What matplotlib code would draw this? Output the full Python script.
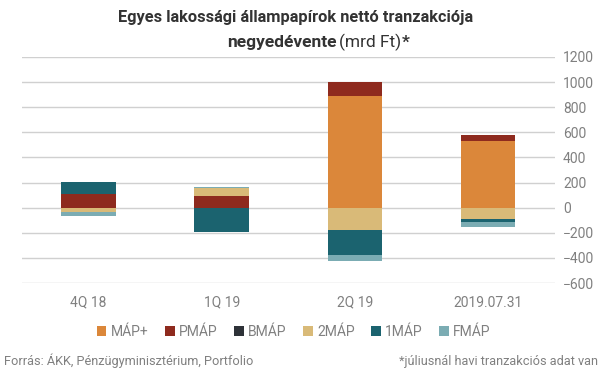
import matplotlib.pyplot as plt
import numpy as np

plt.rcParams['font.family'] = ['Roboto', 'DejaVu Sans']

categories = ["4Q 18", "1Q 19", "2Q 19", "2019.07.31"]
series_names = ["MÁP+", "PMÁP", "BMÁP", "2MÁP", "1MÁP", "FMÁP"]
map_plus = [0, 0, 886, 534]
pmap = [106, 90, 111, 48]
bmap = [0, 0, 0, 0]
map2 = [-35, 64, -180, -93]
map1 = [96, -197, -199, -18]
fmap = [-33, 8, -47, -43]
colors = ["#DB873A", "#8E2A1E", "#2E3238", "#D9BA78", "#1B636F", "#7BACB3"]
yticks = [-600, -400, -200, 0, 200, 400, 600, 800, 1000, 1200]

grey = "#808080"
fig = plt.figure(figsize=(6.11, 3.8), dpi=100)
ax = fig.add_axes([0.036, 0.255, 0.872, 0.595])

x = np.arange(len(categories))
pos_bottom = np.zeros(len(categories))
neg_bottom = np.zeros(len(categories))
for name, vals, col in zip(series_names, [map_plus, pmap, bmap, map2, map1, fmap], colors):
    vals = np.array(vals, dtype=float)
    bottom = np.where(vals >= 0, pos_bottom, neg_bottom)
    ax.bar(x, vals, 0.41, bottom=bottom, color=col, label=name, zorder=3)
    pos_bottom += np.where(vals >= 0, vals, 0)
    neg_bottom += np.where(vals < 0, vals, 0)

ax.set_xlim(-0.5, 3.5)
ax.set_ylim(-600, 1200)
ax.set_yticks(yticks)
ax.yaxis.tick_right()
ax.set_xticks(x)
ax.set_xticklabels(categories)
ax.tick_params(axis='both', length=0, labelsize=10, colors=grey)
ax.tick_params(axis='x', pad=9)
ax.tick_params(axis='y', pad=6)
ax.grid(axis='y', color='#d0d0d0', linewidth=1, zorder=0)
for s in ax.spines.values():
    s.set_visible(False)

ax.legend(loc='upper center', bbox_to_anchor=(0.51, -0.13), ncol=6, frameon=False,
          fontsize=10, labelcolor=grey, handlelength=0.7, handleheight=0.7,
          handletextpad=0.3, columnspacing=1.2)

# title, second line mixes bold and regular
fig.text(0.484, 0.955, "Egyes lakossági állampapírok nettó tranzakciója",
         ha='center', va='center', fontsize=11.8, fontweight='bold', color='#333333')
t1 = fig.text(0.371, 0.889, "negyedévente", ha='left', va='center', fontsize=12.5,
              fontweight='bold', color='#333333')
fig.canvas.draw()
bb = t1.get_window_extent()
t2 = fig.text(bb.x1 / fig.bbox.width + 0.005, 0.889, "(mrd Ft)", ha='left', va='center',
              fontsize=12.5, color='#333333')
bb2 = t2.get_window_extent()
fig.text(bb2.x1 / fig.bbox.width, 0.889, "*", ha='left', va='center', fontsize=12.5,
         fontweight='bold', color='#333333')

fig.text(0.007, 0.05, "Forrás: ÁKK, Pénzügyminisztérium, Portfolio", ha='left', va='center',
         fontsize=9.2, color=grey)
fig.text(0.978, 0.05, "*júliusnál havi tranzakciós adat van", ha='right', va='center',
         fontsize=9.2, color=grey)

fig.savefig("out.png", dpi=100)
